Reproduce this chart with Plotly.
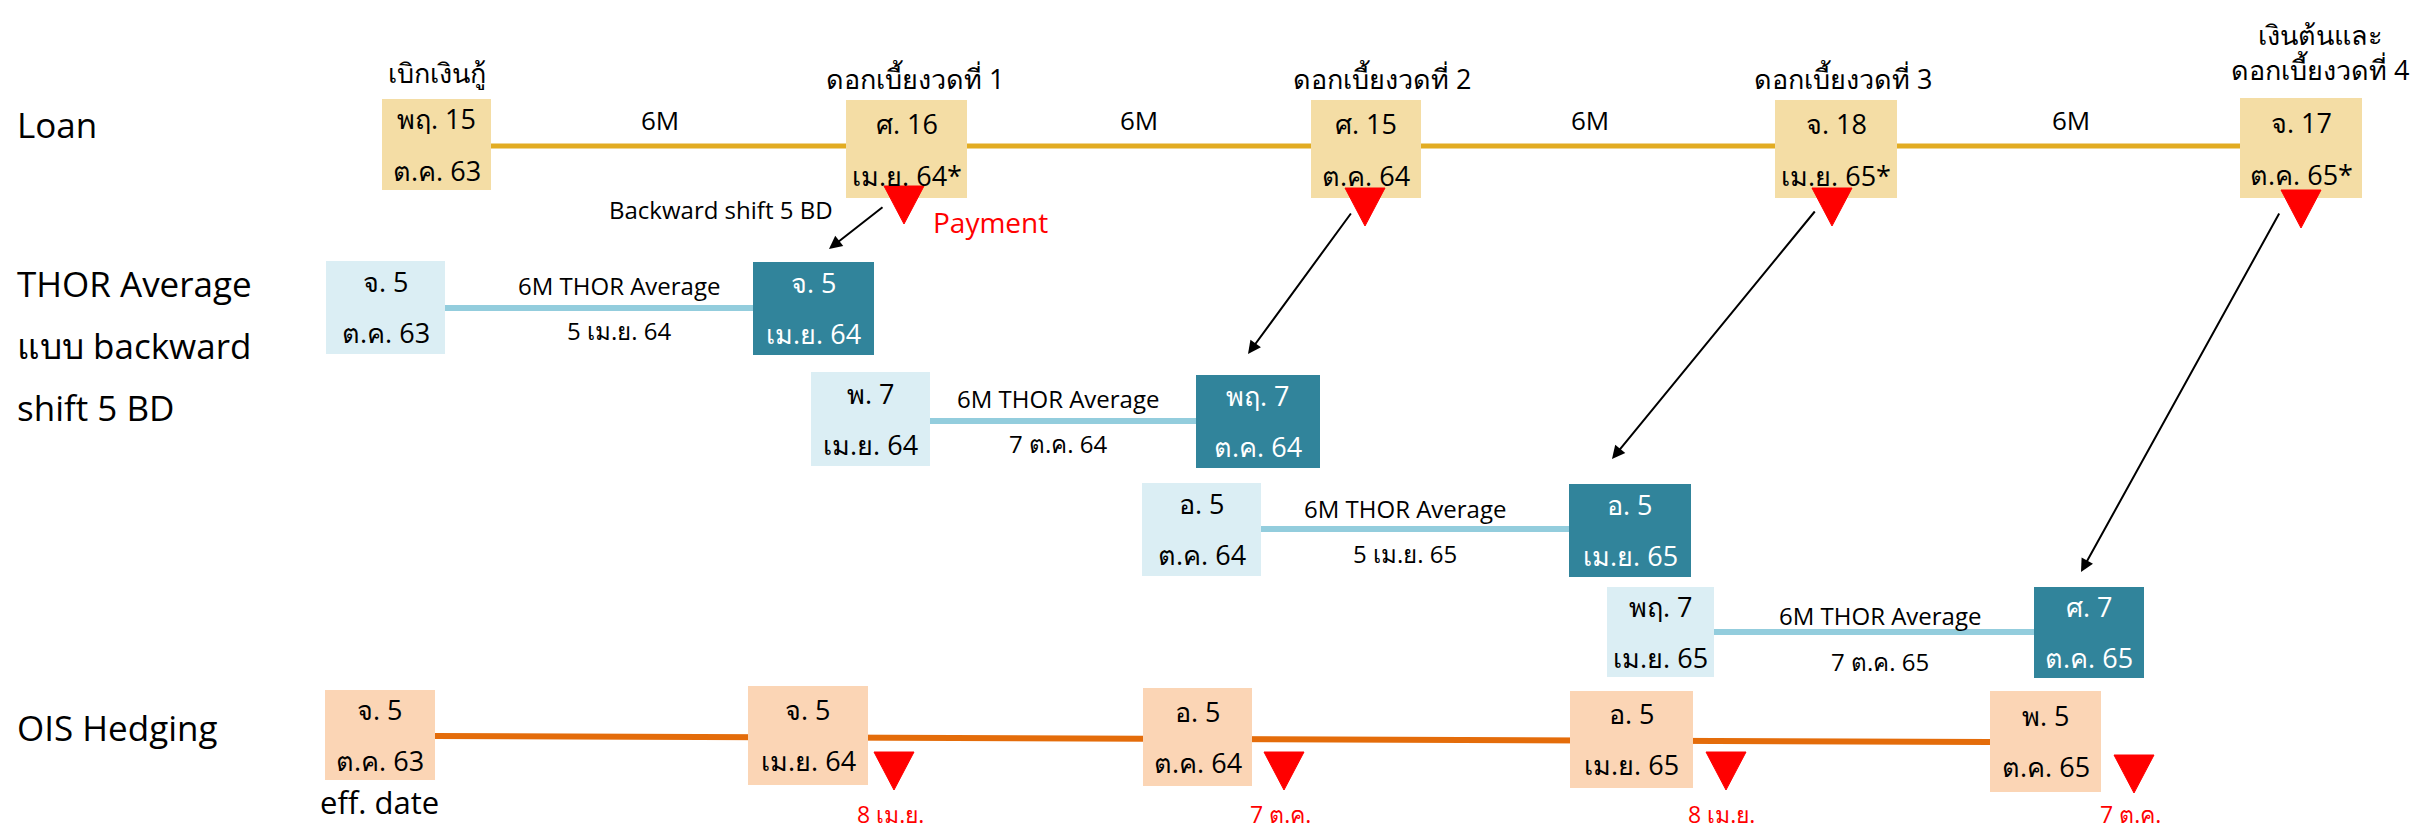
import plotly.graph_objects as go

# ---------------- data (labels) ----------------
loan_headers = ["เบิกเงินกู้", "ดอกเบี้ยงวดที่ 1", "ดอกเบี้ยงวดที่ 2", "ดอกเบี้ยงวดที่ 3", "เงินต้นและ<br>ดอกเบี้ยงวดที่ 4"]
loan_day = ["พฤ. 15", "ศ. 16", "ศ. 15", "จ. 18", "จ. 17"]
loan_month = ["ต.ค. 63", "เม.ย. 64*", "ต.ค. 64", "เม.ย. 65*", "ต.ค. 65*"]
loan_period = ["6M", "6M", "6M", "6M"]

thor_start_day = ["จ. 5", "พ. 7", "อ. 5", "พฤ. 7"]
thor_start_month = ["ต.ค. 63", "เม.ย. 64", "ต.ค. 64", "เม.ย. 65"]
thor_end_day = ["จ. 5", "พฤ. 7", "อ. 5", "ศ. 7"]
thor_end_month = ["เม.ย. 64", "ต.ค. 64", "เม.ย. 65", "ต.ค. 65"]
thor_fixing = ["5 เม.ย. 64", "7 ต.ค. 64", "5 เม.ย. 65", "7 ต.ค. 65"]
thor_caption = "6M THOR Average"

ois_day = ["จ. 5", "จ. 5", "อ. 5", "อ. 5", "พ. 5"]
ois_month = ["ต.ค. 63", "เม.ย. 64", "ต.ค. 64", "เม.ย. 65", "ต.ค. 65"]
ois_pay = ["8 เม.ย.", "7 ต.ค.", "8 เม.ย.", "7 ต.ค."]

row_labels = ["Loan", "THOR Average", "แบบ backward", "shift 5 BD", "OIS Hedging"]

# ---------------- layout geometry (pixels) ----------------
W, H = 2436, 835
loan_box = [(382, 491, 99, 190), (846, 967, 100, 198), (1311, 1421, 100, 198), (1775, 1897, 100, 198), (2240, 2362, 98, 198)]
loan_head_y = [72, 78, 78, 78, 52]
loan_head_x = [437, 915, 1382, 1843, 2320]
loan_line_y = 146
loan_period_x = [660, 1139, 1590, 2071]
loan_tri_x = [904, 1365, 1832, 2301]
loan_tri_y = [186, 188, 188, 190]

thor_light = [(326, 445, 261, 354), (811, 930, 372, 466), (1142, 1261, 483, 576), (1607, 1714, 587, 677)]
thor_dark = [(753, 874, 262, 355), (1196, 1320, 375, 468), (1569, 1691, 484, 577), (2034, 2144, 587, 678)]
thor_line_y = [308, 421, 529, 632]
thor_lab_x = [619, 1058, 1405, 1880]
thor_above_y = [285, 398, 508, 615]
thor_below_y = [330, 443, 553, 661]

ois_box = [(325, 435, 690, 780), (748, 868, 686, 785), (1143, 1252, 688, 786), (1570, 1693, 691, 788), (1990, 2101, 691, 792)]
ois_line_y = (736, 742)
ois_tri_x = [894, 1284, 1726, 2134]
ois_tri_y = [752, 752, 752, 755]
ois_pay_x = [890, 1280, 1721, 2130]

arrows = [((884, 206), (829, 249)), ((1352, 212), (1248, 354)), ((1816, 210), (1612, 459)), ((2280, 212), (2081, 572))]

# ---------------- styles ----------------
FONT = "Open Sans, Noto Sans, sans-serif"
C_LOAN_BOX = "#F4DDA5"
C_LOAN_LINE = "#E2AC22"
C_THOR_LIGHT = "#DBEEF4"
C_THOR_DARK = "#31849B"
C_THOR_LINE = "#93CDDD"
C_OIS_BOX = "#FBD5B5"
C_OIS_LINE = "#E46C0A"
C_RED = "#FF0000"

BOX_FS = 27
fig = go.Figure()
fig.add_trace(go.Scatter(x=[0, W], y=[0, H], mode="markers", marker=dict(opacity=0), hoverinfo="skip", showlegend=False))

shapes = []
ann = []

def text(x, y, s, size=24, color="black", xanchor="center", yanchor="middle"):
    ann.append(dict(x=x, y=y, xref="x", yref="y", text=s, showarrow=False,
                    font=dict(family=FONT, size=size, color=color), xanchor=xanchor, yanchor=yanchor))

def rect(b, color):
    shapes.append(dict(type="rect", xref="x", yref="y", x0=b[0], x1=b[1], y0=b[2], y1=b[3],
                       fillcolor=color, line=dict(width=0)))

def hline(x0, x1, y0, y1, color, w):
    shapes.append(dict(type="line", xref="x", yref="y", x0=x0, x1=x1, y0=y0, y1=y1,
                       line=dict(color=color, width=w)))

def tri(xc, ytop, w=40, h=38):
    shapes.append(dict(type="path", xref="x", yref="y",
                       path=f"M {xc - w/2},{ytop} L {xc + w/2},{ytop} L {xc},{ytop + h} Z",
                       fillcolor=C_RED, line=dict(color=C_RED, width=1)))

# row labels
text(15, 124, row_labels[0], 35, xanchor="left")
text(15, 283, row_labels[1], 35, xanchor="left")
text(15, 345, row_labels[2], 35, xanchor="left")
text(15, 407, row_labels[3], 35, xanchor="left")
text(15, 727, row_labels[4], 35, xanchor="left")

# Loan row
hline(loan_box[0][1], loan_box[-1][0], loan_line_y, loan_line_y, C_LOAN_LINE, 5)
for i, b in enumerate(loan_box):
    rect(b, C_LOAN_BOX)
    mid = (b[2] + b[3]) / 2
    text((b[0] + b[1]) / 2, mid - 26, loan_day[i], BOX_FS)
    text((b[0] + b[1]) / 2, mid + 26, loan_month[i], BOX_FS)
    text(loan_head_x[i], loan_head_y[i], loan_headers[i], 27)
for i, s in enumerate(loan_period):
    text(loan_period_x[i], 120, s, 26)
for i in range(4):
    tri(loan_tri_x[i], loan_tri_y[i])
text(990, 222, "Payment", 28, C_RED)
text(721, 209, "Backward shift 5 BD", 24)

# THOR rows
for i in range(4):
    l, d = thor_light[i], thor_dark[i]
    hline(l[1], d[0], thor_line_y[i], thor_line_y[i], C_THOR_LINE, 6)
    rect(l, C_THOR_LIGHT)
    rect(d, C_THOR_DARK)
    ml = (l[2] + l[3]) / 2
    md = (d[2] + d[3]) / 2
    text((l[0] + l[1]) / 2, ml - 26, thor_start_day[i], BOX_FS)
    text((l[0] + l[1]) / 2, ml + 25, thor_start_month[i], BOX_FS)
    text((d[0] + d[1]) / 2, md - 26, thor_end_day[i], BOX_FS, "white")
    text((d[0] + d[1]) / 2, md + 25, thor_end_month[i], BOX_FS, "white")
    text(thor_lab_x[i], thor_above_y[i], thor_caption, 24)
    text(thor_lab_x[i], thor_below_y[i], thor_fixing[i], 24)

# OIS row
hline(ois_box[0][1], ois_box[-1][0], ois_line_y[0], ois_line_y[1], C_OIS_LINE, 6)
for i, b in enumerate(ois_box):
    rect(b, C_OIS_BOX)
    mid = (b[2] + b[3]) / 2
    text((b[0] + b[1]) / 2, mid - 26, ois_day[i], BOX_FS)
    text((b[0] + b[1]) / 2, mid + 25, ois_month[i], BOX_FS)
for i in range(4):
    tri(ois_tri_x[i], ois_tri_y[i])
    text(ois_pay_x[i], 814, ois_pay[i], 23, C_RED)
text(379, 802, "eff. date", 31)

# arrows
for (tail, tip) in arrows:
    ann.append(dict(x=tip[0], y=tip[1], ax=tail[0], ay=tail[1], xref="x", yref="y", axref="x", ayref="y",
                    text="", showarrow=True, arrowhead=2, arrowsize=1.3, arrowwidth=2, arrowcolor="black",
                    standoff=0, startstandoff=0))

fig.update_layout(
    width=W, height=H, margin=dict(l=0, r=0, t=0, b=0),
    paper_bgcolor="white", plot_bgcolor="white",
    xaxis=dict(range=[0, W], visible=False, fixedrange=True),
    yaxis=dict(range=[H, 0], visible=False, fixedrange=True),
    shapes=shapes, annotations=ann, showlegend=False,
)
fig.write_html("out.html", config={"displayModeBar": False},
               post_script="document.body.style.margin='0';document.body.style.overflow='hidden';")
